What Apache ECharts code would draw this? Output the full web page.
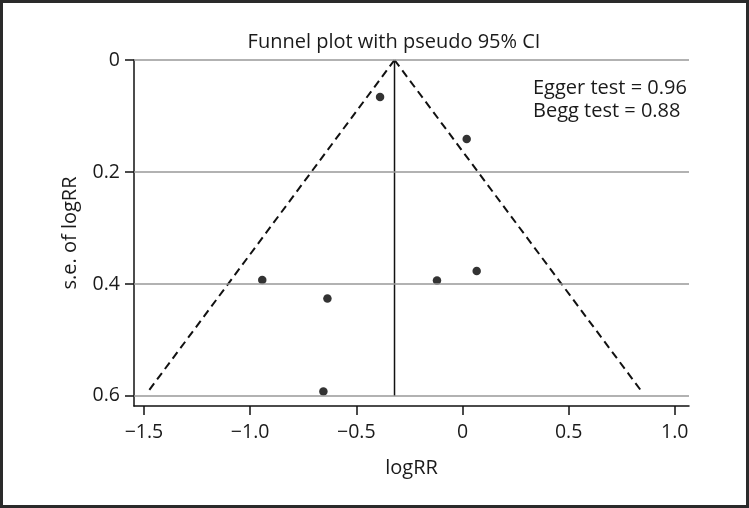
<!DOCTYPE html>
<html>
<head>
<meta charset="utf-8">
<script src="https://cdn.jsdelivr.net/npm/echarts@6/dist/echarts.min.js"></script>
<style>
html,body{margin:0;padding:0;background:#fff;}
#c{width:749px;height:508px;}
</style>
</head>
<body>
<div id="c"></div>
<script>
// Study estimates: [logRR, s.e. of logRR]
const studies = [
  [-0.388, 0.066],
  [0.020, 0.141],
  [-0.943, 0.393],
  [-0.636, 0.426],
  [-0.120, 0.394],
  [0.067, 0.377],
  [-0.655, 0.592]
];
const pooled = -0.32;
const funnelLeft = [[-0.32, 0], [-1.482, 0.593]];
const funnelRight = [[-0.32, 0], [0.846, 0.593]];
const pooledLine = [[-0.32, 0], [-0.32, 0.6]];
const xTicks = [-1.5, -1.0, -0.5, 0, 0.5, 1.0];
const yTicks = [0, 0.2, 0.4, 0.6];
const titleText = 'Funnel plot with pseudo 95% CI';
const testLines = ['Egger test = 0.96', 'Begg test = 0.88'];

const FONT = 'Open Sans';
const TXT = '#1a1a1a';
function fmt(v) {
  if (Math.abs(v) < 1e-9) return '0';
  const s = Math.abs(v).toFixed(1);
  return (v < 0 ? '\u2212' : '') + s;
}
const chart = echarts.init(document.getElementById('c'), null, {renderer: 'canvas'});
chart.setOption({
  animation: false,
  backgroundColor: '#fff',
  grid: {left: 134, right: 60, top: 60, bottom: 102, containLabel: false},
  xAxis: {
    type: 'value', min: -1.547, max: 1.067,
    axisLine: {show: true, onZero: false, lineStyle: {color: '#111', width: 1.5}},
    axisTick: {show: true, length: 9, customValues: xTicks, lineStyle: {color: '#111', width: 1.5}},
    axisLabel: {customValues: xTicks, formatter: v => fmt(v), margin: 16,
      color: TXT, fontFamily: FONT, fontSize: 19.5},
    splitLine: {show: false},
    name: 'logRR', nameLocation: 'middle', nameGap: 52,
    nameTextStyle: {color: TXT, fontFamily: FONT, fontSize: 20}
  },
  yAxis: {
    type: 'value', min: 0, max: 0.618, inverse: true,
    axisLine: {show: true, onZero: false, lineStyle: {color: '#111', width: 1.5}},
    axisTick: {show: true, length: 9, customValues: yTicks, lineStyle: {color: '#111', width: 1.5}},
    axisLabel: {customValues: yTicks, formatter: v => (Math.abs(v) < 1e-9 ? '0' : v.toFixed(1)), margin: 14,
      color: TXT, fontFamily: FONT, fontSize: 19.5},
    splitLine: {show: false},
    name: 's.e. of logRR', nameLocation: 'middle', nameGap: 54,
    nameTextStyle: {color: TXT, fontFamily: FONT, fontSize: 20}
  },
  graphic: [
    {type: 'rect', shape: {x: 1.5, y: 1.5, width: 746, height: 505},
      style: {fill: 'none', stroke: '#2a2a2a', lineWidth: 3}, z: 100},
    {type: 'text', x: 394, y: 42, style: {text: titleText, fill: TXT, font: '20px "Open Sans"',
      textAlign: 'center', textVerticalAlign: 'middle'}},
    {type: 'text', x: 533, y: 88, style: {text: testLines[0], fill: TXT, font: '20px "Open Sans"',
      textAlign: 'left', textVerticalAlign: 'middle'}},
    {type: 'text', x: 533, y: 111, style: {text: testLines[1], fill: TXT, font: '20px "Open Sans"',
      textAlign: 'left', textVerticalAlign: 'middle'}}
  ],
  series: [
    {type: 'line', data: [], silent: true,
      markLine: {silent: true, symbol: 'none', label: {show: false},
        lineStyle: {color: '#999', width: 1.5, type: 'solid'},
        data: yTicks.map(v => ({yAxis: v}))}},
    {type: 'line', data: funnelLeft, symbol: 'none', lineStyle: {color: '#111', width: 2, type: [8, 5]}},
    {type: 'line', data: funnelRight, symbol: 'none', lineStyle: {color: '#111', width: 2, type: [8, 5]}},
    {type: 'line', data: pooledLine, symbol: 'none', lineStyle: {color: '#111', width: 1.5}},
    {type: 'scatter', data: studies, symbol: 'circle', symbolSize: 8.5, itemStyle: {color: '#000'}}
  ]
});
</script>
</body>
</html>
